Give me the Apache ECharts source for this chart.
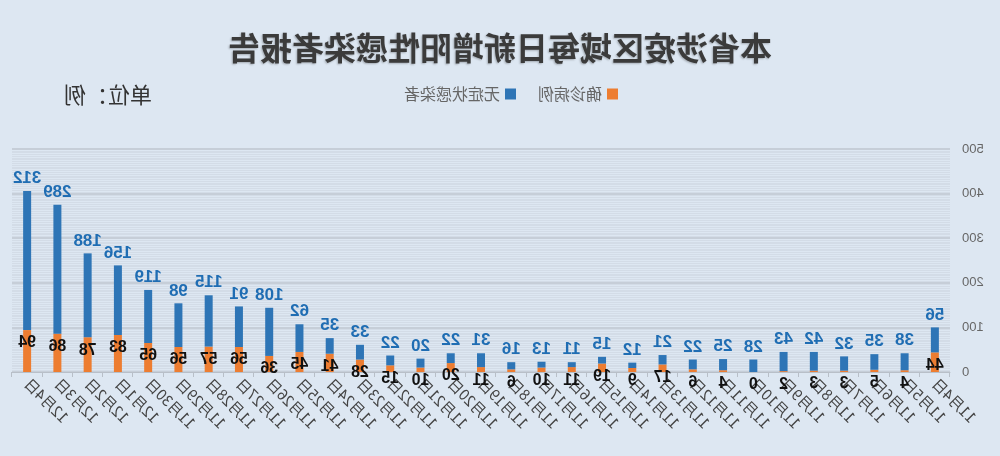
<!DOCTYPE html>
<html>
<head>
<meta charset="utf-8">
<script src="https://cdn.jsdelivr.net/npm/echarts@6/dist/echarts.min.js"></script>
<style>
  html, body { margin: 0; padding: 0; background: #ffffff; }
  /* the reference picture is a mirror image, so the whole chart is flipped */
  #main { width: 1000px; height: 456px; transform: scaleX(-1); }
</style>
</head>
<body>
<div id="main"></div>
<script>
var chart = echarts.init(document.getElementById('main'))

var dates = ['11月4日','11月5日','11月6日','11月7日','11月8日','11月9日','11月10日','11月11日',
  '11月12日','11月13日','11月14日','11月15日','11月16日','11月17日','11月18日','11月19日',
  '11月20日','11月21日','11月22日','11月23日','11月24日','11月25日','11月26日','11月27日',
  '11月28日','11月29日','11月30日','12月1日','12月2日','12月3日','12月4日'];
var confirmed = [44, 4, 5, 3, 3, 2, 0, 4, 6, 17, 9, 19, 11, 10, 6, 11,
  20, 10, 15, 28, 41, 45, 36, 56, 57, 56, 65, 83, 78, 86, 94];
var asymptomatic = [56, 38, 35, 32, 42, 43, 28, 25, 22, 21, 12, 15, 11, 13, 16, 31,
  22, 20, 22, 33, 35, 62, 108, 91, 115, 98, 119, 156, 188, 289, 312];
var yTicks = [0, 100, 200, 300, 400, 500];

var option = {
  backgroundColor: '#dde7f2',
  title: [
    {
      text: '本省涉疫区域每日新增阳性感染者报告',
      left: 'center',
      top: 27,
      textStyle: {
        fontFamily: 'Noto Sans CJK SC',
        fontSize: 32,
        fontWeight: 'bold',
        color: '#3b3b3b',
        textShadowColor: 'rgba(0,0,0,0.25)',
        textShadowBlur: 2,
        textShadowOffsetX: 1,
        textShadowOffsetY: 1
      }
    },
    {
      text: '单位：例',
      left: 843,
      top: 79,
      textStyle: {
        fontFamily: 'Noto Sans CJK SC',
        fontSize: 22,
        fontWeight: 'normal',
        color: '#333'
      }
    }
  ],
  legend: {
    top: 81,
    left: 377,
    itemWidth: 11,
    itemHeight: 11,
    itemGap: 22,
    icon: 'rect',
    textStyle: {fontFamily: 'Noto Sans CJK SC', fontSize: 16, color: '#666'},
    data: ['确诊病例', '无症状感染者']
  },
  grid: {left: 50, right: 12, top: 149, bottom: 84},
  xAxis: {
    type: 'category',
    data: dates,
    axisLine: {lineStyle: {color: '#b8bfc8', width: 1}},
    axisTick: {show: true, length: 5, lineStyle: {color: '#b8bfc8'}},
    axisLabel: {
      rotate: 45,
      interval: 0,
      fontFamily: 'Noto Sans CJK SC',
      fontSize: 15,
      color: '#444',
      margin: 9
    }
  },
  yAxis: {
    type: 'value',
    min: yTicks[0],
    max: yTicks[yTicks.length - 1],
    interval: 100,
    axisLine: {show: false},
    axisTick: {show: false},
    axisLabel: {fontFamily: 'Liberation Sans', fontSize: 13, color: '#666', margin: 12},
    splitLine: {lineStyle: {color: '#c6ced8', width: 2}},
    minorTick: {show: false, splitNumber: 25},
    minorSplitLine: {show: true, lineStyle: {color: '#d3dce7', width: 1}}
  },
  series: [
    {
      name: '确诊病例',
      type: 'bar',
      stack: 'total',
      barWidth: 8,
      itemStyle: {color: '#ed7d31'},
      label: {
        show: true,
        position: 'insideTop',
        distance: 5,
        fontFamily: 'Liberation Sans',
        fontSize: 16,
        fontWeight: 'bold',
        color: '#111'
      },
      data: confirmed
    },
    {
      name: '无症状感染者',
      type: 'bar',
      stack: 'total',
      barWidth: 8,
      itemStyle: {color: '#2e75b6'},
      label: {
        show: true,
        position: 'top',
        distance: 4,
        fontFamily: 'Liberation Sans',
        fontSize: 17,
        fontWeight: 'bold',
        color: '#1f6db3'
      },
      data: asymptomatic
    }
  ]
}

chart.setOption(option);
</script>
</body>
</html>
